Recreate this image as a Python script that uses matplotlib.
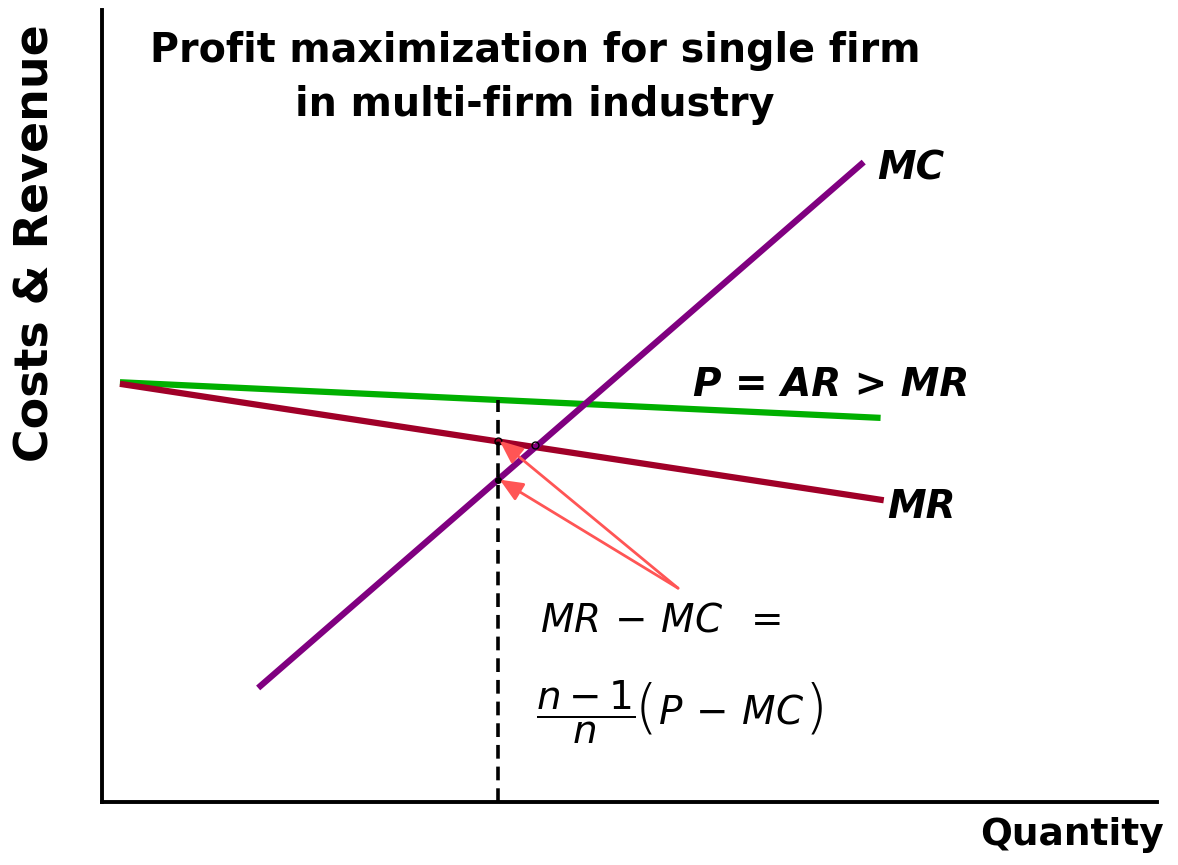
import matplotlib
matplotlib.use("Agg")
from matplotlib import pyplot as plt

# demand / cost lines (quantity, value) in arbitrary units
ar_q = [0.17, 7.38]
ar_v = [5.30, 4.85]
mr_q = [0.17, 7.41]
mr_v = [5.28, 3.81]
mc_q = [1.48, 7.22]
mc_v = [1.44, 8.08]

q_star = 3.75          # output where dashed line sits
p_star = 5.08          # price on AR at q_star
mr_star = 4.56         # MR at q_star
mc_star = 4.07         # MC at q_star
cross_q, cross_v = 4.10, 4.51   # MR = MC

arrow_tail = (5.46, 2.70)

plt.rcParams['mathtext.fontset'] = 'dejavusans'

fig = plt.figure(figsize=(11.78, 8.65), dpi=100)
ax = fig.add_axes([102/1178, 63/865, 1055/1178, 792/865])
ax.set_xlim(0, 10)
ax.set_ylim(0, 10)

ax.plot(ar_q, ar_v, color='#00B000', lw=4.5, solid_capstyle='butt')
ax.plot(mr_q, mr_v, color='#A00028', lw=4.5, solid_capstyle='butt')
ax.plot(mc_q, mc_v, color='#800080', lw=4.5, solid_capstyle='butt')
ax.plot([q_star, q_star], [0, p_star], color='black', lw=2.6, ls=(0, (3.8, 2.2)))

# little markers at the points of interest
ax.plot([q_star, cross_q], [mr_star, cross_v], 'o', mfc='none', mec='black', ms=5, mew=1)
ax.plot([q_star], [mc_star], 'o', color='black', ms=4)

for tgt in [(q_star + 0.02, mr_star), (q_star + 0.02, mc_star)]:
    ax.annotate('', xy=tgt, xytext=arrow_tail,
                arrowprops=dict(arrowstyle='-|>,head_length=1.4,head_width=0.6',
                                color='#FF5555', lw=2.0, shrinkA=0, shrinkB=0))

for s in ['top', 'right']:
    ax.spines[s].set_visible(False)
for s in ['left', 'bottom']:
    ax.spines[s].set_linewidth(2.8)
ax.set_xticks([])
ax.set_yticks([])

fig.text(535/1178, 1 - 78/865, 'Profit maximization for single firm\nin multi-firm industry',
         ha='center', va='center', fontsize=28.5, fontweight='bold',
         family='DejaVu Sans', linespacing=1.45)
fig.text(36/1178, 1 - 243/865, 'Costs & Revenue', rotation=90, ha='center', va='center',
         fontsize=33, fontweight='bold', family='DejaVu Sans')
fig.text(1072/1178, 1 - 835/865, 'Quantity', ha='center', va='center',
         fontsize=27, fontweight='bold', family='DejaVu Sans')

fig.text(877/1178, 1 - 168/865, 'MC', ha='left', va='center', fontsize=28,
         fontweight='bold', style='italic')
fig.text(693/1178, 1 - 385/865, 'P = AR > MR', ha='left', va='center', fontsize=28,
         fontweight='bold', style='italic')
fig.text(887/1178, 1 - 507/865, 'MR', ha='left', va='center', fontsize=28,
         fontweight='bold', style='italic')

# the formula
fig.text(540/1178, 1 - 620/865, r'$MR\,-\,MC\;\;=$', ha='left', va='center', fontsize=28)
fig.text(536/1178, 1 - 712/865, r'$\dfrac{n-1}{n}$', ha='left', va='center', fontsize=28)
fig.text(646/1178, 1 - 710/865, '(', ha='center', va='center', fontsize=42, fontweight='light')
fig.text(658/1178, 1 - 712/865, r'$P\,-\,MC\,$', ha='left', va='center', fontsize=28)
fig.text(816/1178, 1 - 710/865, ')', ha='center', va='center', fontsize=42, fontweight='light')

fig.savefig('out.png', dpi=100)
